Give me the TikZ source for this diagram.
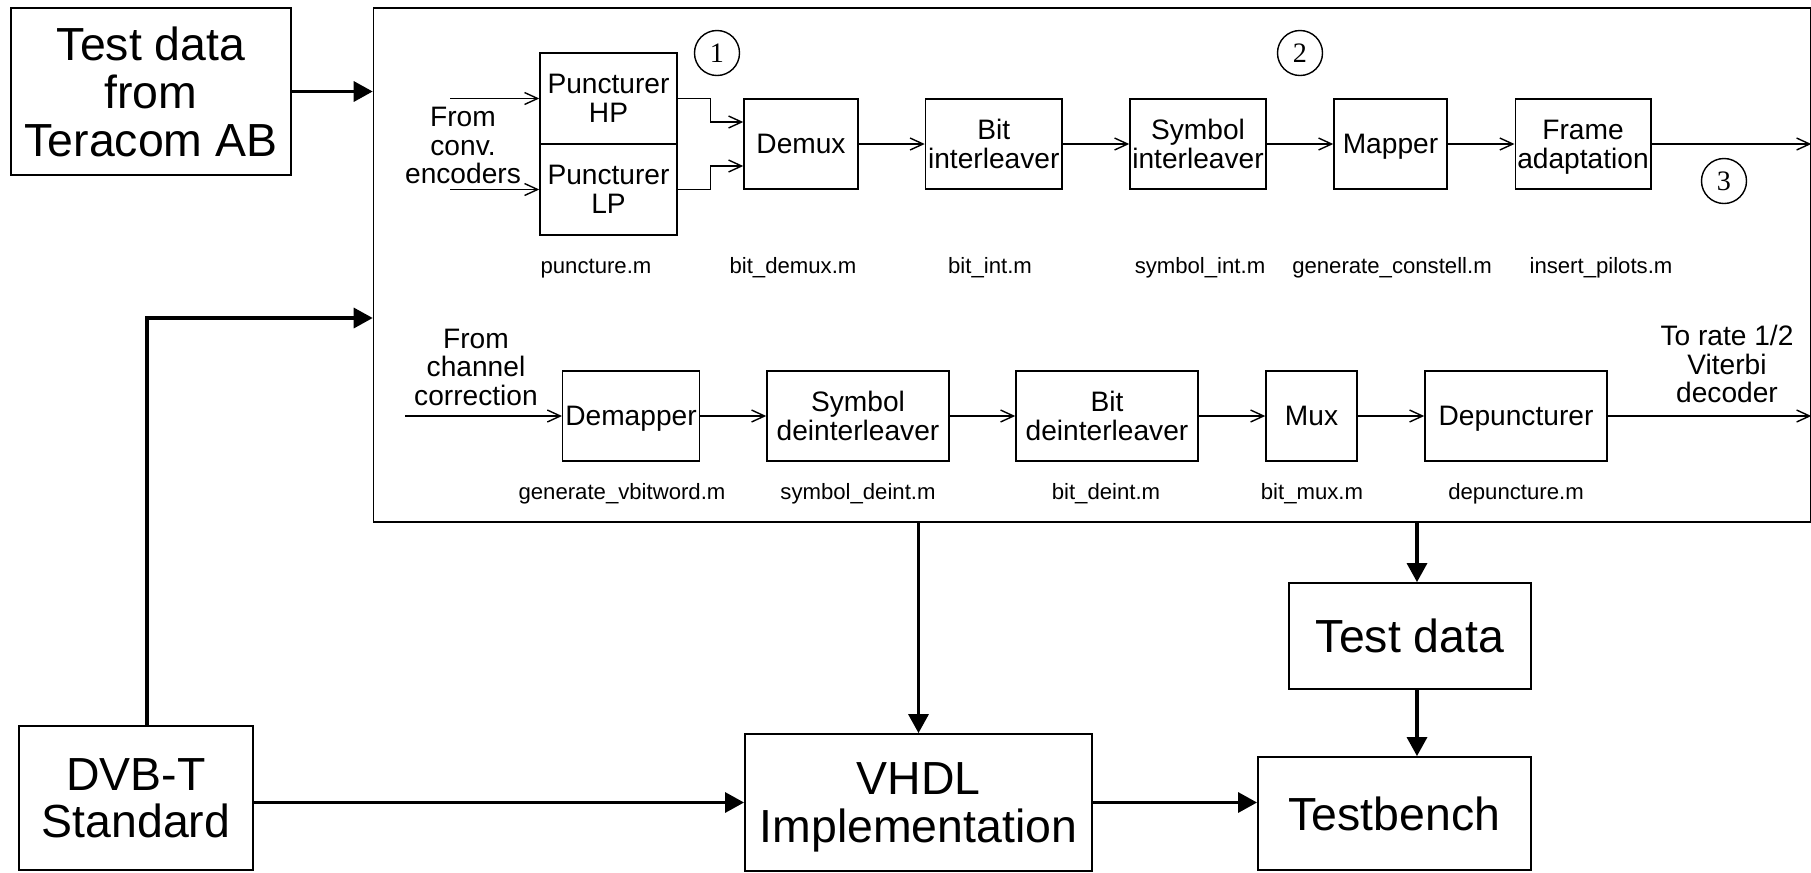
\documentclass[tikz,border=0pt]{standalone}
\usepackage{fontspec}
\usepackage{tikz}
\usetikzlibrary{arrows.meta,positioning,calc}
\setmainfont{Liberation Sans}
\newfontfamily\numfont{Liberation Serif}

\begin{document}
\begin{tikzpicture}[
  x=0.01cm,y=-0.01cm,
  blk/.style={draw,line width=0.4pt,inner sep=0pt,text depth=0pt,align=center,minimum height=0.9cm,font=\fontsize{8}{8.2}\selectfont},
  big/.style={draw,line width=0.5pt,inner sep=0pt,text depth=0pt,align=center,font=\fontsize{13.2}{13.6}\selectfont},
  txt/.style={inner sep=0pt,align=center,font=\fontsize{8}{8.1}\selectfont},
  lbl/.style={anchor=base,inner sep=0pt,font=\fontsize{6.3}{7}\selectfont},
  num/.style={draw,circle,line width=0.4pt,minimum size=0.45cm,inner sep=0pt,font=\numfont\fontsize{8}{8}\selectfont},
  sigarr/.style={->,line width=0.4pt,>={Straight Barb[length=3.7pt,width=3.4pt]}},
  mainarr/.style={->,line width=0.9pt,>={Triangle[length=5.4pt,width=5.7pt]}}
]
\useasboundingbox (0,0) rectangle (1811,872);

% Outer blocks
\node[big,minimum width=2.8cm,minimum height=1.67cm]   (teracom)  at (151,91.5)   {Test data\\from\\Teracom AB};
\node[big,minimum width=2.34cm,minimum height=1.44cm]  (dvbt)     at (136,798)    {DVB-T\\Standard};
\node[big,minimum width=3.47cm,minimum height=1.37cm]  (vhdl)     at (918.5,802.5){VHDL\\Implementation};
\node[big,minimum width=2.42cm,minimum height=1.06cm]  (testdata) at (1410,636)   {Test data};
\node[big,minimum width=2.73cm,minimum height=1.13cm]  (tbench)   at (1394.5,813.5){Testbench};
\node[draw,line width=0.5pt,inner sep=0pt,minimum width=14.36cm,minimum height=5.14cm] (frame) at (1092,265) {};

% Transmitter chain
\node[blk,minimum width=1.37cm,minimum height=0.91cm] (punchp) at (608.5,98.5)  {Puncturer\\HP};
\node[blk,minimum width=1.37cm,minimum height=0.91cm] (punclp) at (608.5,189.5) {Puncturer\\LP};
\node[blk,minimum width=1.14cm]  (demux)  at (801,144)    {Demux};
\node[blk,minimum width=1.365cm] (bitint) at (993.75,144) {Bit\\interleaver};
\node[blk,minimum width=1.36cm]  (symint) at (1198,144)   {Symbol\\interleaver};
\node[blk,minimum width=1.13cm]  (mapper) at (1390.5,144) {Mapper};
\node[blk,minimum width=1.355cm] (frmad)  at (1583,144)   {Frame\\adaptation};

\node[txt] (fromconv) at (463,145.5) {From\\conv.\\encoders};
\node[num] (n1) at (717,53)   {1};
\node[num] (n2) at (1300,53)  {2};
\node[num] (n3) at (1724,181) {3};

\node[lbl] at (596,273)  {puncture.m};
\node[lbl] at (793,273)  {bit\_demux.m};
\node[lbl] at (990,273)  {bit\_int.m};
\node[lbl] at (1200,273) {symbol\_int.m};
\node[lbl] at (1392,273) {generate\_constell.m};
\node[lbl] at (1601,273) {insert\_pilots.m};

% Receiver chain
\node[blk,minimum width=1.365cm] (demap)   at (631,416)    {Demapper};
\node[blk,minimum width=1.82cm]  (symdint) at (858,416)    {Symbol\\deinterleaver};
\node[blk,minimum width=1.82cm]  (bitdint) at (1107,416)   {Bit\\deinterleaver};
\node[blk,minimum width=0.91cm]  (mux)     at (1311.5,416) {Mux};
\node[blk,minimum width=1.82cm]  (depunc)  at (1516,416)   {Depuncturer};

\node[txt] (fromch) at (476,367)  {From\\channel\\correction};
\node[txt] (toviterbi) at (1727,364) {To rate 1/2\\Viterbi\\decoder};

\node[lbl] at (622,499)  {generate\_vbitword.m};
\node[lbl] at (858,499)  {symbol\_deint.m};
\node[lbl] at (1106,499) {bit\_deint.m};
\node[lbl] at (1312,499) {bit\_mux.m};
\node[lbl] at (1516,499) {depuncture.m};

% Signal flow inside the frame
\coordinate (convhp) at (450,98.5);
\coordinate (convlp) at (450,189.5);
\coordinate (chcorr) at (405,416);
\draw[sigarr] (convhp) -- (punchp.west);
\draw[sigarr] (convlp) -- (punclp.west);
\draw[sigarr] (punchp.east) -- ++(33,0) |- ($(demux.west)+(0,-22)$);
\draw[sigarr] (punclp.east) -- ++(33,0) |- ($(demux.west)+(0,22)$);
\draw[sigarr] (demux) -- (bitint);
\draw[sigarr] (bitint) -- (symint);
\draw[sigarr] (symint) -- (mapper);
\draw[sigarr] (mapper) -- (frmad);
\draw[sigarr] (frmad.east) -- (frmad.east -| frame.east);

\draw[sigarr] (chcorr) -- (demap.west);
\draw[sigarr] (demap) -- (symdint);
\draw[sigarr] (symdint) -- (bitdint);
\draw[sigarr] (bitdint) -- (mux);
\draw[sigarr] (mux) -- (depunc);
\draw[sigarr] (depunc.east) -- (depunc.east -| frame.east);

% Design flow
\coordinate (dvbup) at (147,318);
\coordinate (tdx) at (1417,0);
\draw[mainarr] (teracom.east) -- (teracom.east -| frame.west);
\draw[mainarr] (dvbt.north -| dvbup) |- (dvbup -| frame.west);
\draw[mainarr] (dvbt.east |- vhdl.west) -- (vhdl.west);
\draw[mainarr] (frame.south -| vhdl.north) -- (vhdl.north);
\draw[mainarr] (vhdl.east) -- (vhdl.east -| tbench.west);
\draw[mainarr] (frame.south -| tdx) -- (testdata.north -| tdx);
\draw[mainarr] (testdata.south -| tdx) -- (tbench.north -| tdx);
\end{tikzpicture}
\end{document}
